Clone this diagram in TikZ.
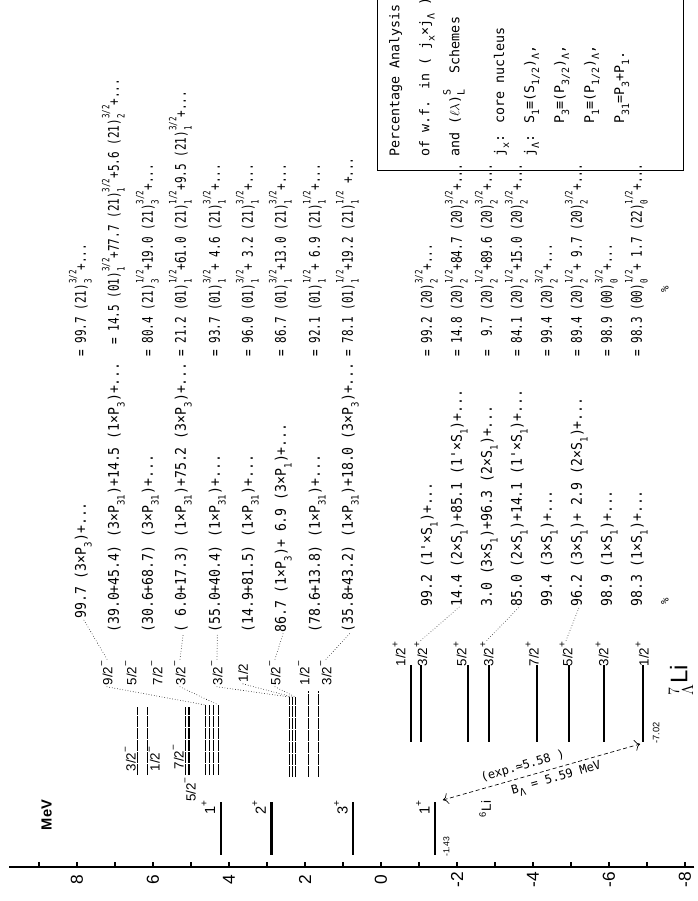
\documentclass[tikz,border=0pt]{standalone}
\usepackage{fontspec}
\setmainfont{DejaVu Sans Mono}
\newfontfamily\wfafont{DejaVu Sans Mono}[FakeStretch=0.9]
\newfontfamily\wfbfont{DejaVu Sans Mono}[FakeStretch=0.75]
\newfontfamily\hv{Liberation Sans}
\usetikzlibrary{arrows.meta,calc}

% energy (MeV) -> picture units, 38 units per MeV
\newcommand\ev[1]{317+38*(#1)}
\newcommand\sub[1]{\raisebox{-0.7ex}{\fontsize{7.5}{7.5}\selectfont#1}}
\newcommand\qn[2]{\makebox[0pt][l]{\sub{#1}}\raisebox{1.2ex}{\fontsize{7.5}{7.5}\selectfont#2}}
\newcommand\jpi[2]{#1\raisebox{1ex}{\fontsize{7.5}{7.5}\selectfont#2}}

\tikzset{
  lev/.style={line width=1.6pt},
  nlev/.style={line width=1pt, dash pattern=on 8pt off 1pt},
  lead/.style={line width=0.6pt, line cap=round, dash pattern=on 0pt off 2pt},
  jlab/.style={font=\hv\fontsize{10}{10}\selectfont, inner sep=1pt},
  wfa/.style={font=\wfafont\fontsize{11}{11}\selectfont, anchor=base west, inner sep=0pt},
  wfb/.style={font=\wfbfont\fontsize{11}{11}\selectfont, anchor=base west, inner sep=0pt},
}

\begin{document}
\begin{tikzpicture}[x=0.75pt, y=0.75pt, rotate=90, transform shape]
\clip (0,0) rectangle (901,698);

% energy axis
\draw[line width=0.8pt] (34,{\ev{-8.25}}) -- (34,{\ev{9.8}});
\foreach \e in {-8,...,9}
  \draw[line width=0.8pt] (34,{\ev{\e}}) -- (39,{\ev{\e}});
\foreach \e in {-8,-6,...,8}
  \node[font=\hv\fontsize{13}{13}\selectfont] (tk\e) at (21,{\ev{\e}}) {\e};
\node[font=\hv\bfseries\fontsize{11}{11}\selectfont] (mev) at (86,{\ev{8.8}}) {MeV};

% 6Li
\foreach \e/\j [count=\i] in {4.22/1,2.88/2,0.73/3,-1.43/1} {
  \draw[lev] (46,{\ev{\e}}) -- (99,{\ev{\e}}) coordinate (li\i);
  \node[jlab, font=\hv\fontsize{11}{11}\selectfont, anchor=south east] (jli\i) at (102,{\ev{\e}+4}) {\jpi{\j}{+}};
}
\node[font=\hv\fontsize{6.5}{6.5}\selectfont] (eli) at (54,{\ev{-1.43}-11}) {-1.43};
\node[font=\hv\fontsize{10}{10}\selectfont] (nli) at (92,{\ev{-2.74}}) {\textsuperscript{6}Li};

% 7-Lambda-Li, positive parity
\foreach \e/\j/\o [count=\i] in {-0.79/1/12,-1.05/3/0,-2.29/5/8,-2.84/3/2,-4.11/7/5,-4.95/5/3,-5.87/3/2,-6.9/1/1} {
  \draw[lev] (159,{\ev{\e}}) coordinate (pa\i) -- (236,{\ev{\e}}) coordinate (pb\i);
  \node[jlab, anchor=west] (jp\i) at (233,{\ev{\e}+\o}) {\jpi{\j/2}{+}};
}
\node[font=\hv\fontsize{7}{7}\selectfont] (ela) at (168,{\ev{-6.9}-13}) {-7.02};
\node[font=\hv\fontsize{18}{18}\selectfont] (nla) at (221,17) {$^{7}_{\Lambda}$Li};

% 7-Lambda-Li, negative parity
\foreach \e/\a/\b [count=\i] in {6.41/126/194,6.15/126/194,5.15/126/194,5.05/126/194,
    4.62/126/196,4.51/126/196,4.41/126/196,4.28/126/196,
    2.41/124/204,2.33/124/204,2.25/124/204,1.91/124/210,1.64/124/210}
  \draw[nlev] (\a,{\ev{\e}}) coordinate (na\i) -- (\b,{\ev{\e}}) coordinate (nb\i);

\node[jlab, anchor=south west] (ja1) at (128,{\ev{6.41}}) {\jpi{3/2}{−}};
\node[jlab, anchor=north west] (ja2) at (128,{\ev{6.15}}) {\jpi{1/2}{−}};
\node[jlab, anchor=south west] (ja3) at (130,{\ev{5.15}}) {\jpi{7/2}{−}};
\node[jlab, anchor=east] (ja4) at (125,{\ev{5.02}}) {\jpi{5/2}{−}};

\node[jlab] (jn1) at (228,591) {\jpi{9/2}{−}};
\node[jlab] (jn2) at (228,567) {\jpi{5/2}{−}};
\node[jlab] (jn3) at (228,541) {\jpi{7/2}{−}};
\node[jlab] (jn4) at (228,518) {\jpi{3/2}{−}};
\node[jlab] (jn5) at (228,481) {\jpi{3/2}{−}};
\node[jlab] (jn6) at (228,455) {\jpi{1/2}{}};
\node[jlab] (jn7) at (228,423) {\jpi{5/2}{−}};
\node[jlab] (jn8) at (228,394) {\jpi{1/2}{−}};
\node[jlab] (jn9) at (228,372) {\jpi{3/2}{−}};

\draw[lead] (jn1.west) -- (nb5);
\draw[lead] (jn4.west) -- (nb8);
\draw[lead] (jn5.west) -- (nb9);
\draw[lead] (jn6.west) -- (nb10);
\draw[lead] (jn7.west) -- (nb11);

\node[wfa] (f1) at (282,612) {99.7 (3×P\sub{3})+...};
\node[wfa] (f2) at (268,579) {(39.0+45.4) (3×P\sub{31})+14.5 (1×P\sub{3})+...};
\node[wfa] (f3) at (268,545) {(30.6+68.7) (3×P\sub{31})+...};
\node[wfa] (f4) at (268,512) {( 6.0+17.3) (1×P\sub{31})+75.2 (3×P\sub{3})+...};
\node[wfa] (f5) at (268,478) {(55.0+40.4) (1×P\sub{31})+...};
\node[wfa] (f6) at (268,445) {(14.9+81.5) (1×P\sub{31})+...};
\node[wfa] (f7) at (268,412) {86.7 (1×P\sub{3})+ 6.9 (3×P\sub{1})+...};
\node[wfa] (f8) at (268,378) {(78.6+13.8) (1×P\sub{31})+...};
\node[wfa] (f9) at (268,345) {(35.8+43.2) (1×P\sub{31})+18.0 (3×P\sub{3})+...};

\draw[lead] (jn1.east) -- (f1.west);
\draw[lead] (jn4.east) -- (f4.west);
\draw[lead] (jn5.east) -- (f5.west);
\draw[lead] (jn7.east) -- (f7.west);
\draw[lead] (jn9.east) -- (f9.west);

\node[wfb] (g1) at (544,612) {= 99.7 (21)\qn{3}{3/2}+...};
\node[wfb] (g2) at (556,579) {= 14.5 (01)\qn{1}{3/2}+77.7 (21)\qn{1}{3/2}+5.6 (21)\qn{2}{3/2}+...};
\node[wfb] (g3) at (544,545) {= 80.4 (21)\qn{3}{1/2}+19.0 (21)\qn{3}{3/2}+...};
\node[wfb] (g4) at (544,512) {= 21.2 (01)\qn{1}{1/2}+61.0 (21)\qn{1}{1/2}+9.5 (21)\qn{1}{3/2}+...};
\node[wfb] (g5) at (544,478) {= 93.7 (01)\qn{1}{3/2}+ 4.6 (21)\qn{1}{3/2}+...};
\node[wfb] (g6) at (544,445) {= 96.0 (01)\qn{1}{3/2}+ 3.2 (21)\qn{1}{3/2}+...};
\node[wfb] (g7) at (544,412) {= 86.7 (01)\qn{1}{3/2}+13.0 (21)\qn{1}{3/2}+...};
\node[wfb] (g8) at (544,378) {= 92.1 (01)\qn{1}{1/2}+ 6.9 (21)\qn{1}{1/2}+...};
\node[wfb] (g9) at (544,345) {= 78.1 (01)\qn{1}{1/2}+19.2 (21)\qn{1}{1/2} +...};

% positive parity wave functions
\node[wfa] (q1) at (294,266) {99.2 (1'×S\sub{1})+...};
\node[wfa] (q2) at (294,236) {14.4 (2×S\sub{1})+85.1 (1'×S\sub{1})+...};
\node[wfa] (q3) at (294,206) {3.0 (3×S\sub{1})+96.3 (2×S\sub{1})+...};
\node[wfa] (q4) at (294,176) {85.0 (2×S\sub{1})+14.1 (1'×S\sub{1})+...};
\node[wfa] (q5) at (294,146) {99.4 (3×S\sub{1})+...};
\node[wfa] (q6) at (294,116) {96.2 (3×S\sub{1})+ 2.9 (2×S\sub{1})+...};
\node[wfa] (q7) at (294,86) {98.9 (1×S\sub{1})+...};
\node[wfa] (q8) at (294,56) {98.3 (1×S\sub{1})+...};

\draw[lead] (jp2.east) -- (q2.west);
\draw[lead] (jp4.east) -- (q4.west);
\draw[lead] (jp6.east) -- (q6.west);

\node[wfb] (r1) at (544,266) {= 99.2 (20)\qn{2}{3/2}+...};
\node[wfb] (r2) at (544,236) {= 14.8 (20)\qn{2}{1/2}+84.7 (20)\qn{2}{3/2}+...};
\node[wfb] (r3) at (544,206) {= \ 9.7 (20)\qn{2}{1/2}+89.6 (20)\qn{2}{3/2}+...};
\node[wfb] (r4) at (544,176) {= 84.1 (20)\qn{2}{1/2}+15.0 (20)\qn{2}{3/2}+...};
\node[wfb] (r5) at (544,146) {= 99.4 (20)\qn{2}{3/2}+...};
\node[wfb] (r6) at (544,116) {= 89.4 (20)\qn{2}{1/2}+ 9.7 (20)\qn{2}{3/2}+...};
\node[wfb] (r7) at (544,86) {= 98.9 (00)\qn{0}{3/2}+...};
\node[wfb] (r8) at (544,56) {= 98.3 (00)\qn{0}{1/2}+ 1.7 (22)\qn{0}{1/2}+...};

\node[font=\fontsize{8}{8}\selectfont] (pc1) at (300,33) {\%};
\node[font=\fontsize{8}{8}\selectfont] (pc2) at (612,33) {\%};

% binding energy
\coordinate (bs) at (101,{\ev{-1.63}});
\coordinate (be) at (157,{\ev{-6.82}});
\draw[line width=0.5pt, dash pattern=on 3pt off 2pt, {To[length=4pt]}-{To[length=4pt]}] (bs) -- (be);
\node[rotate=-74, anchor=south, font=\fontsize{9}{9}\selectfont] (bexp) at ($(bs)!0.42!(be)$) {(exp.≃5.58 )};
\node[rotate=-74, anchor=north, font=\fontsize{9}{9}\selectfont] (bval) at ($(bs)!0.56!(be)$) {B\sub{Λ} = 5.59 MeV};

% legend
\draw[line width=0.7pt] (905,321) -- (731,321) -- (731,15) -- (905,15);
\node[font=\fontsize{10}{22.5}\selectfont, align=left, anchor=north west, inner sep=0pt] (note) at (744,309)
  {Percentage Analysis\\
   of w.f. in ( j\sub{x}×j\sub{Λ} )\\
   and ($\ell\lambda$)\qn{L}{S}\ \ Schemes\\[11pt]
   j\sub{x}: core nucleus\\
   j\sub{Λ}: S\sub{1}≡(S\sub{1/2})\sub{Λ},\\
   \phantom{j\sub{Λ}: }P\sub{3}≡(P\sub{3/2})\sub{Λ},\\
   \phantom{j\sub{Λ}: }P\sub{1}≡(P\sub{1/2})\sub{Λ},\\
   \phantom{j\sub{Λ}: }P\sub{31}=P\sub{3}+P\sub{1}.};
\end{tikzpicture}
\end{document}
